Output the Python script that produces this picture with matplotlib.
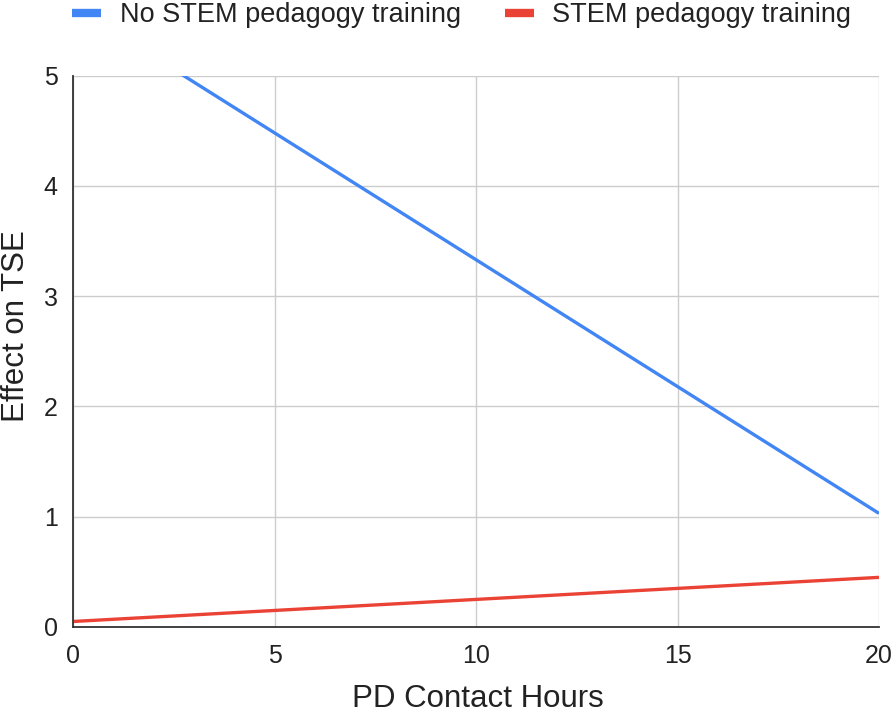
import matplotlib
matplotlib.use("Agg")
import matplotlib.pyplot as plt
from matplotlib.lines import Line2D

hours = [0, 5, 10, 15, 20]
no_stem = [5.63, 4.48, 3.33, 2.18, 1.03]
stem = [0.05, 0.15, 0.25, 0.35, 0.45]
series_names = ["No STEM pedagogy training", "STEM pedagogy training"]
x_ticks = [0, 5, 10, 15, 20]
y_ticks = [0, 1, 2, 3, 4, 5]

plt.rcParams['font.family'] = ['Liberation Sans', 'DejaVu Sans']

fig = plt.figure(figsize=(8.96, 7.17), dpi=100)
ax = fig.add_axes([73/896, 1 - 627/717, (879 - 73)/896, (627 - 75.5)/717])

blue = "#4285F4"
red = "#EA4335"
ax.plot(hours, no_stem, color=blue, lw=2.4, solid_capstyle='butt')
ax.plot(hours, stem, color=red, lw=2.4, solid_capstyle='butt')

ax.set_xlim(0, 20)
ax.set_ylim(0, 5)
ax.set_xticks(x_ticks)
ax.set_yticks(y_ticks)
ax.grid(True, color="#cccccc", lw=1)
ax.set_axisbelow(True)
for s in ["top", "right"]:
    ax.spines[s].set_visible(False)
for s in ["left", "bottom"]:
    ax.spines[s].set_color("#333333")
    ax.spines[s].set_linewidth(1.3)
ax.tick_params(length=0, labelsize=18, colors="#222222")
ax.tick_params(axis='x', pad=12)
ax.tick_params(axis='y', pad=11)

fig.text(478/896, 1 - 707/717, "PD Contact Hours", fontsize=22.5, color="#222222",
         ha='center', va='baseline')
fig.text(1/896, 1 - 326/717, "Effect on TSE", fontsize=22.5, color="#222222",
         ha='left', va='center', rotation=90)

handles = [Line2D([0], [0], color=blue, lw=6, solid_capstyle='butt'),
           Line2D([0], [0], color=red, lw=6, solid_capstyle='butt')]
fig.legend(handles, series_names, loc="upper left", bbox_to_anchor=(48/896, 1.031),
           ncol=2, frameon=False, fontsize=19.5, handlelength=1.07, handletextpad=0.67,
           columnspacing=1.63, labelcolor="#222222")

fig.savefig("out.png", dpi=100)
